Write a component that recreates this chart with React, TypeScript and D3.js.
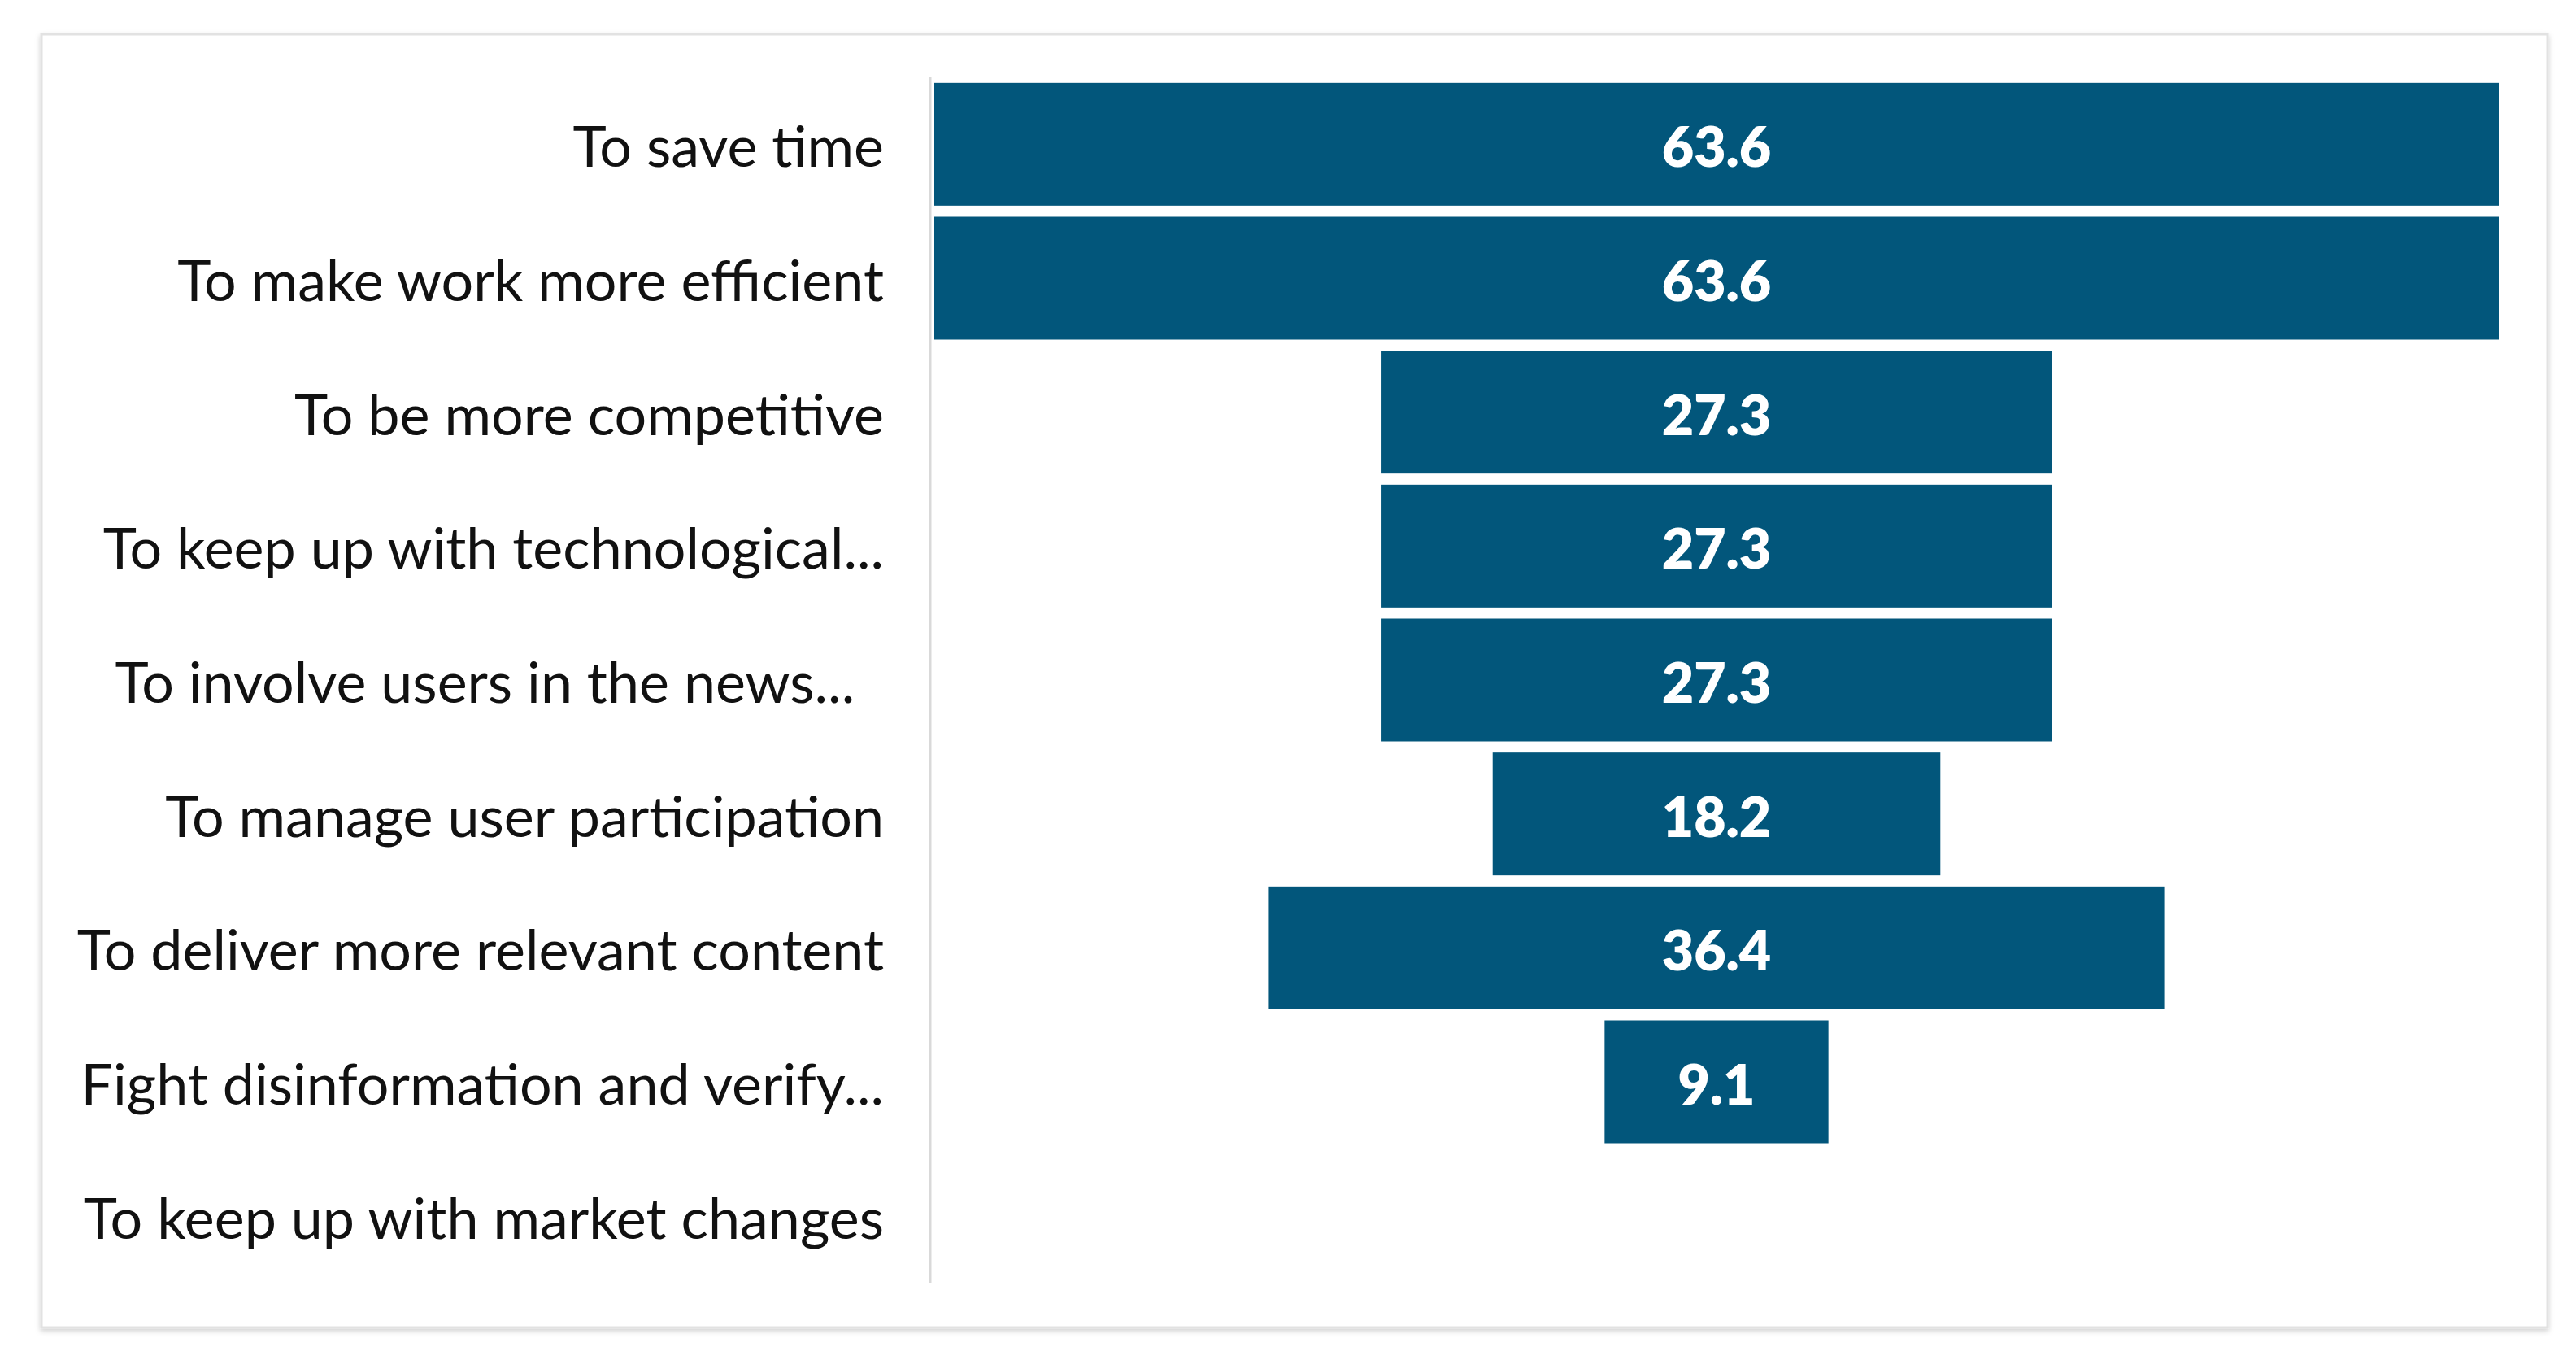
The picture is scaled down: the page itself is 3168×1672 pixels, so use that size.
import React from "react";
import * as d3 from "d3";

// motivations, top to bottom
const categories: string[] = [
  "To save time",
  "To make work more efficient",
  "To be more competitive",
  "To keep up with technological...",
  "To involve users in the news...\u00A0\u00A0",
  "To manage user participation",
  "To deliver more relevant content",
  "Fight disinformation and verify...",
  "To keep up with market changes",
];

// share of respondents (%); the last one has no bar
const values: (number | null)[] = [63.6, 63.6, 27.3, 27.3, 27.3, 18.2, 36.4, 9.1, null];

const W = 3168;
const H = 1672;
const BAR = "#02567b";
const FONT = "Lato, 'Open Sans', sans-serif";

const App = () => {
  const frame = { x: 51, y: 42, w: 3082, h: 1590 };
  const axisX = 1144;
  const centerX = 2111;

  const y = d3
    .scaleBand<string>()
    .domain(categories)
    .range([95, 1577])
    .paddingInner(0.083)
    .paddingOuter(0.0415);

  // half-width scale: bars grow out from the centre line
  const maxV = d3.max(values, (d) => d ?? 0) ?? 0;
  const half = d3.scaleLinear().domain([0, maxV]).range([0, 3073 - centerX]);

  return (
    <svg
      width={W}
      height={H}
      style={{ position: "absolute", left: 0, top: 0, display: "block", background: "#fff" }}
    >
      <defs>
        <filter id="shadow" x="-2%" y="-2%" width="104%" height="106%">
          <feDropShadow dx="0" dy="3" stdDeviation="3" floodColor="#000" floodOpacity="0.18" />
        </filter>
      </defs>
      <rect
        x={frame.x}
        y={frame.y}
        width={frame.w}
        height={frame.h}
        fill="#fff"
        stroke="#e2e2e2"
        strokeWidth={3}
        filter="url(#shadow)"
      />
      <line x1={axisX} x2={axisX} y1={y.range()[0]} y2={y.range()[1]} stroke="#d9d9d9" strokeWidth={3} />

      {categories.map((c, i) => {
        const v = values[i];
        const yc = (y(c) ?? 0) + y.bandwidth() / 2;
        return (
          <g key={c}>
            <text
              x={1087}
              y={yc}
              dy="0.4em"
              textAnchor="end"
              fontFamily={FONT}
              fontSize={70}
              fill="#111"
              style={{ whiteSpace: "pre" }}
            >
              {c}
            </text>
            {v != null && (
              <>
                <rect
                  x={centerX - half(v)}
                  y={y(c)}
                  width={half(v) * 2}
                  height={y.bandwidth()}
                  fill={BAR}
                />
                <text
                  x={centerX}
                  y={yc}
                  dy="0.41em"
                  textAnchor="middle"
                  fontFamily={FONT}
                  fontWeight={800}
                  fontSize={68}
                  fill="#fff"
                >
                  {d3.format(".1f")(v)}
                </text>
              </>
            )}
          </g>
        );
      })}
    </svg>
  );
};

export default App;
